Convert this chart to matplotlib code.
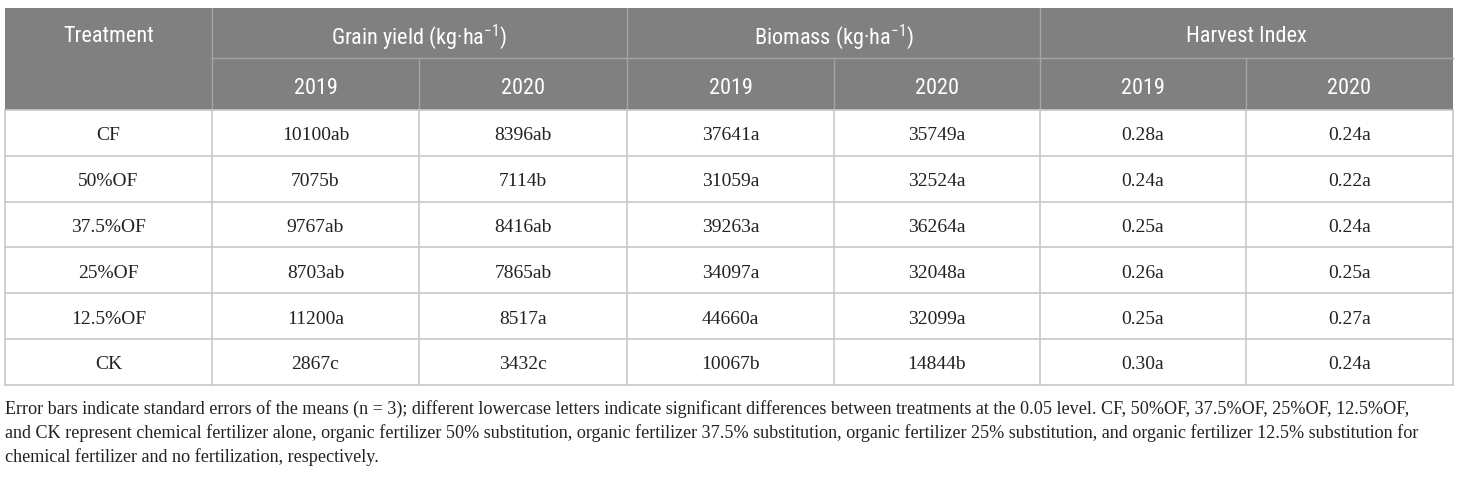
import matplotlib.pyplot as plt
from matplotlib.patches import Rectangle
from matplotlib import font_manager

treatments = ['CF', '50%OF', '37.5%OF', '25%OF', '12.5%OF', 'CK']
grain_2019 = ['10100ab', '7075b', '9767ab', '8703ab', '11200a', '2867c']
grain_2020 = ['8396ab', '7114b', '8416ab', '7865ab', '8517a', '3432c']
biomass_2019 = ['37641a', '31059a', '39263a', '34097a', '44660a', '10067b']
biomass_2020 = ['35749a', '32524a', '36264a', '32048a', '32099a', '14844b']
hi_2019 = ['0.28a', '0.24a', '0.25a', '0.26a', '0.25a', '0.30a']
hi_2020 = ['0.24a', '0.22a', '0.24a', '0.25a', '0.27a', '0.24a']

groups = ['Grain yield (kg·ha$\\mathregular{^{-1}}$)', 'Biomass (kg·ha$\\mathregular{^{-1}}$)', 'Harvest Index']
years = ['2019', '2020']

note = ["Error bars indicate standard errors of the means (n = 3); different lowercase letters indicate significant differences between treatments at the 0.05 level. CF, 50%OF, 37.5%OF, 25%OF, 12.5%OF,",
        "and CK represent chemical fertilizer alone, organic fertilizer 50% substitution, organic fertilizer 37.5% substitution, organic fertilizer 25% substitution, and organic fertilizer 12.5% substitution for",
        "chemical fertilizer and no fertilization, respectively."]

cols = [grain_2019, grain_2020, biomass_2019, biomass_2020, hi_2019, hi_2020]

# pick a narrow sans for the header if there is one
installed = {f.name for f in font_manager.fontManager.ttflist}
head_font = 'Roboto'
head_size = 15
for cand, size in [('Liberation Sans Narrow', 17), ('Roboto Condensed', 16), ('Open Sans Condensed', 16)]:
    if cand in installed:
        head_font, head_size = cand, size
        break
body_font = 'Liberation Serif'

plt.rcParams['mathtext.fontset'] = 'custom'
plt.rcParams['mathtext.rm'] = head_font

# layout in pixels
xs = [5, 212, 419, 627, 834, 1040, 1246, 1453]
y_top, y_mid, y_head = 8, 58, 110
row_h = 45.8
header_col = '#808080'
grid_col = '#c8c8c8'

fig = plt.figure(figsize=(14.6, 4.87), dpi=100)
ax = fig.add_axes([0, 0, 1, 1])
ax.set_xlim(0, 1460)
ax.set_ylim(487, 0)
ax.axis('off')

# header background
ax.add_patch(Rectangle((xs[0], y_top), xs[-1] - xs[0], y_head - y_top, color=header_col, lw=0))
ax.plot([xs[1], xs[-1]], [y_mid, y_mid], color='#a4a4a4', lw=1)
for i in range(1, 7):
    y0 = y_top if i % 2 == 1 else y_mid
    ax.plot([xs[i], xs[i]], [y0, y_head], color='#a4a4a4', lw=1)

ax.text((xs[0] + xs[1]) / 2, (y_top + y_mid) / 2 + 4, 'Treatment', color='white',
        fontsize=head_size, family=head_font, ha='center', va='center')
for g, name in enumerate(groups):
    xc = (xs[1 + 2 * g] + xs[3 + 2 * g]) / 2
    ax.text(xc, (y_top + y_mid) / 2 + 4, name, color='white', fontsize=head_size,
            family=head_font, ha='center', va='center')
    for k, yr in enumerate(years):
        xc2 = (xs[1 + 2 * g + k] + xs[2 + 2 * g + k]) / 2
        ax.text(xc2, (y_mid + y_head) / 2 + 5, yr, color='white', fontsize=head_size,
                family=head_font, ha='center', va='center')

# body
y_bot = y_head + row_h * len(treatments)
for r in range(len(treatments) + 1):
    y = y_head + r * row_h
    ax.plot([xs[0], xs[-1]], [y, y], color=grid_col, lw=1.2)
for x in xs:
    ax.plot([x, x], [y_head, y_bot], color=grid_col, lw=1.2)

for r, t in enumerate(treatments):
    yc = y_head + (r + 0.5) * row_h + 3
    ax.text((xs[0] + xs[1]) / 2, yc, t, fontsize=14, family=body_font,
            ha='center', va='center', color='#222222')
    for c, col in enumerate(cols):
        ax.text((xs[c + 1] + xs[c + 2]) / 2, yc, col[r], fontsize=14, family=body_font,
                ha='center', va='center', color='#222222')

for i, line in enumerate(note):
    ax.text(xs[0], 409 + i * 24, line, fontsize=13.05, family=body_font,
            ha='left', va='center', color='#222222')

fig.savefig('out.png', dpi=100)
